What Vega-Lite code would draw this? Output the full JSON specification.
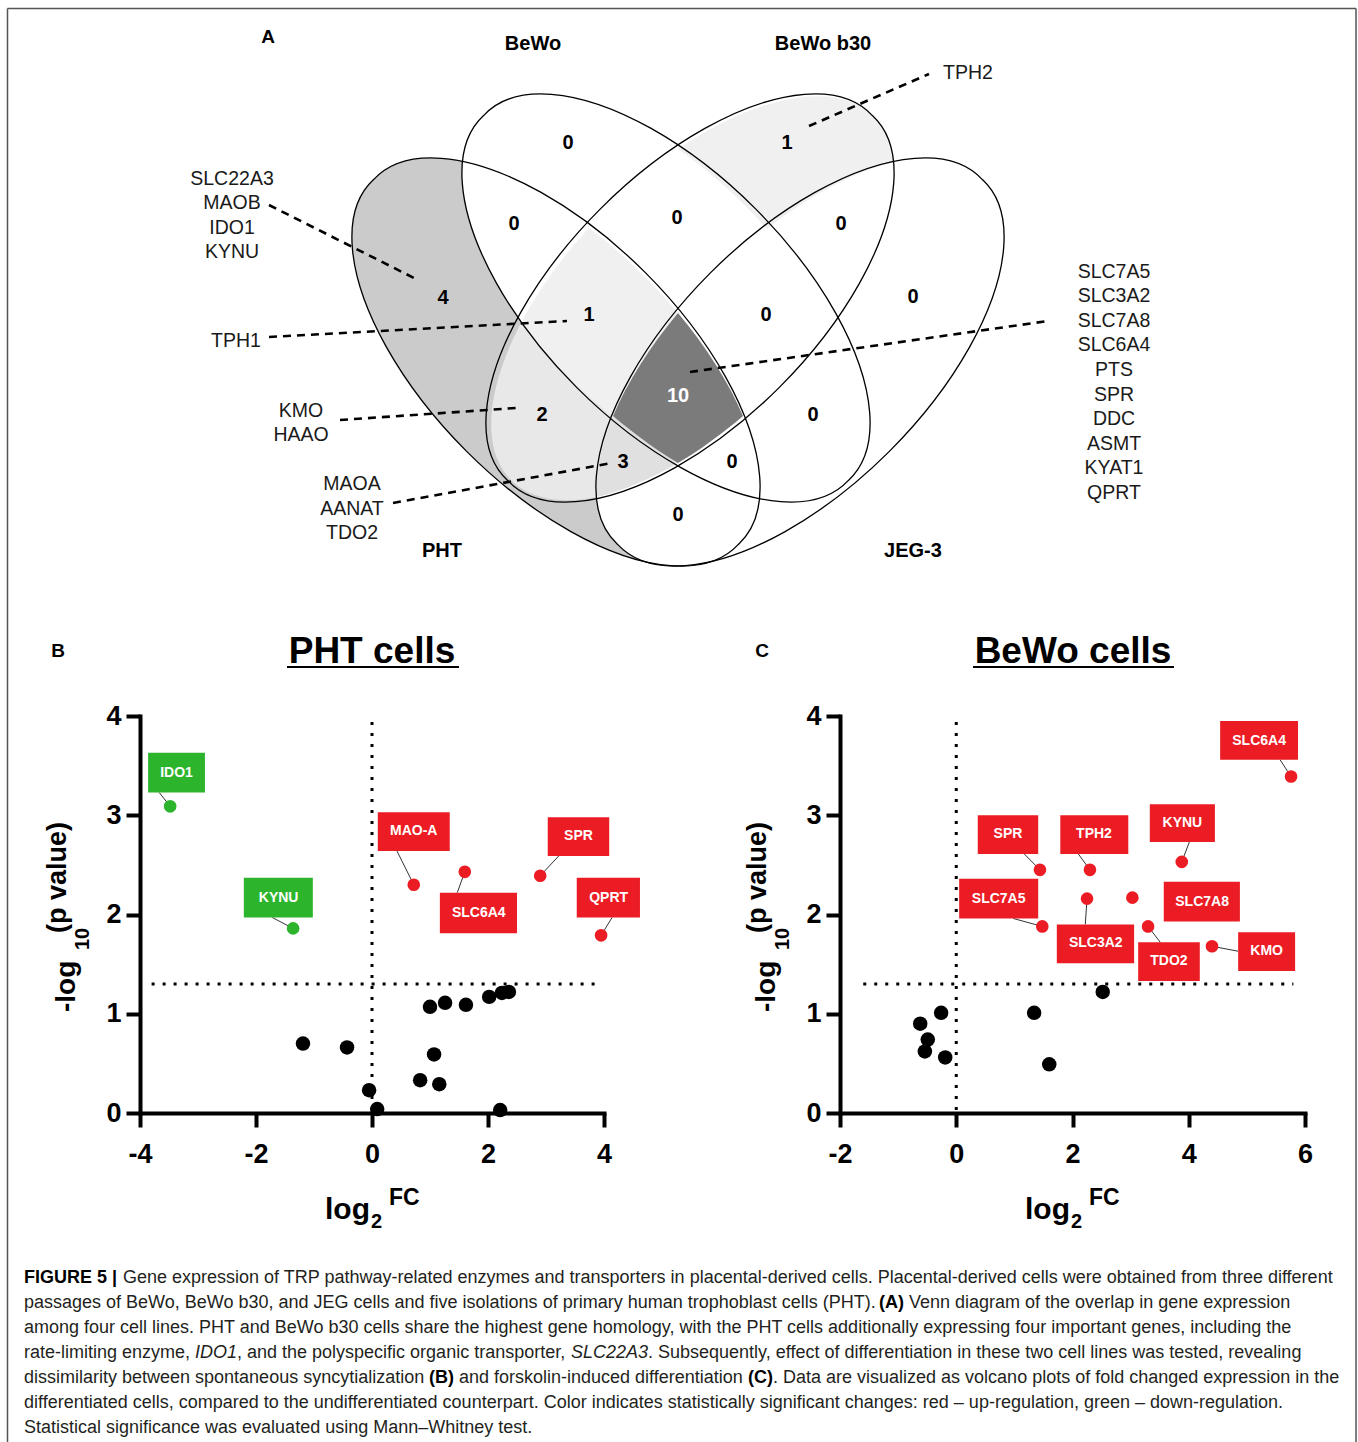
{
"$schema": "https://vega.github.io/schema/vega-lite/v6.json",
"width": 1358, "height": 1442, "autosize": {"type": "none"}, "padding": 0, "background": "white",
"config": {"view": {"stroke": null}, "font": "Liberation Sans",
 "axis": {"domainColor": "black", "domainWidth": 4, "domainCap": "square", "tickColor": "black", "tickWidth": 4, "tickSize": 14, "labelFont": "Liberation Sans", "labelFontWeight": "bold", "labelFontSize": 27, "labelColor": "black", "labelFlush": false, "labelOverlap": false, "grid": false}},
"datasets": {
"venn": [{"cx": 678, "cy": 362}],
"counts": [{"n":"0","x":568,"y":143},{"n":"1","x":787,"y":143},{"n":"0","x":514,"y":224},{"n":"0","x":677,"y":218},{"n":"0","x":841,"y":224},{"n":"4","x":443,"y":298},{"n":"0","x":913,"y":297},{"n":"1","x":589,"y":315},{"n":"0","x":766,"y":315},{"n":"10","x":678,"y":396},{"n":"2","x":542,"y":415},{"n":"0","x":813,"y":415},{"n":"3","x":623,"y":462},{"n":"0","x":732,"y":462},{"n":"0","x":678,"y":515}],
"sets": [{"t":"BeWo","x":533,"y":44},{"t":"BeWo b30","x":823,"y":44},{"t":"PHT","x":442,"y":551},{"t":"JEG-3","x":913,"y":551}],
"panels": [{"t":"A","x":268,"y":37},{"t":"B","x":58,"y":651},{"t":"C","x":762,"y":651}],
"genes": [{"g":"SLC22A3","x":232,"y":179},{"g":"MAOB","x":232,"y":203},{"g":"IDO1","x":232,"y":228},{"g":"KYNU","x":232,"y":252},{"g":"TPH1","x":236,"y":341},{"g":"KMO","x":301,"y":411},{"g":"HAAO","x":301,"y":435},{"g":"MAOA","x":352,"y":484},{"g":"AANAT","x":352,"y":509},{"g":"TDO2","x":352,"y":533},{"g":"TPH2","x":968,"y":73},{"g":"SLC7A5","x":1114,"y":272},{"g":"SLC3A2","x":1114,"y":296},{"g":"SLC7A8","x":1114,"y":321},{"g":"SLC6A4","x":1114,"y":345},{"g":"PTS","x":1114,"y":370},{"g":"SPR","x":1114,"y":395},{"g":"DDC","x":1114,"y":419},{"g":"ASMT","x":1114,"y":444},{"g":"KYAT1","x":1114,"y":468},{"g":"QPRT","x":1114,"y":493}],
"vlead": [{"x":269,"y":205,"x2":414,"y2":278},{"x":269,"y":337,"x2":567,"y2":321},{"x":340,"y":420,"x2":516,"y2":408},{"x":393,"y":503,"x2":612,"y2":463},{"x":809,"y":126,"x2":929,"y2":74},{"x":690,"y":372,"x2":1048,"y2":321}],
"titles": [{"t":"PHT cells","x":372,"y":652,"u1":287,"u2":459,"uy":667},{"t":"BeWo cells","x":1073,"y":652,"u1":973,"u2":1174,"uy":667}],
"atitle": [{"t":"-log","x":75,"y":1012,"k":"yb"},{"t":"10","x":89,"y":950,"k":"ys"},{"t":"(p value)","x":66,"y":933,"k":"yp"},{"t":"-log","x":775,"y":1012,"k":"yb"},{"t":"10","x":789,"y":950,"k":"ys"},{"t":"(p value)","x":766,"y":933,"k":"yp"},{"t":"log","x":325,"y":1219,"k":"xb"},{"t":"2","x":371,"y":1228,"k":"xs"},{"t":"FC","x":389,"y":1205,"k":"xp"},{"t":"log","x":1025,"y":1219,"k":"xb"},{"t":"2","x":1071,"y":1228,"k":"xs"},{"t":"FC","x":1089,"y":1205,"k":"xp"}],
"border": [{"x":7.5,"y":8.5,"x2":1356,"y2":8.5},{"x":7.5,"y":8.5,"x2":7.5,"y2":1442},{"x":1356,"y":8.5,"x2":1356,"y2":1442}],
"caption": [
{"t":"FIGURE 5 |","x":24,"y":1278,"s":"b"},
{"t":"Gene expression of TRP pathway-related enzymes and transporters in placental-derived cells. Placental-derived cells were obtained from three different","x":123,"y":1278,"s":"r"},
{"t":"passages of BeWo, BeWo b30, and JEG cells and five isolations of primary human trophoblast cells (PHT).","x":24,"y":1303,"s":"r"},
{"t":"(A)","x":879,"y":1303,"s":"b"},
{"t":"Venn diagram of the overlap in gene expression","x":909,"y":1303,"s":"r"},
{"t":"among four cell lines. PHT and BeWo b30 cells share the highest gene homology, with the PHT cells additionally expressing four important genes, including the","x":24,"y":1328,"s":"r"},
{"t":"rate-limiting enzyme,","x":24,"y":1353,"s":"r"},
{"t":"IDO1","x":195,"y":1353,"s":"i"},
{"t":", and the polyspecific organic transporter,","x":237,"y":1353,"s":"r"},
{"t":"SLC22A3","x":571,"y":1353,"s":"i"},
{"t":". Subsequently, effect of differentiation in these two cell lines was tested, revealing","x":648,"y":1353,"s":"r"},
{"t":"dissimilarity between spontaneous syncytialization","x":24,"y":1378,"s":"r"},
{"t":"(B)","x":429,"y":1378,"s":"b"},
{"t":"and forskolin-induced differentiation","x":459,"y":1378,"s":"r"},
{"t":"(C)","x":748,"y":1378,"s":"b"},
{"t":". Data are visualized as volcano plots of fold changed expression in the","x":773,"y":1378,"s":"r"},
{"t":"differentiated cells, compared to the undifferentiated counterpart. Color indicates statistically significant changes: red – up-regulation, green – down-regulation.","x":24,"y":1403,"s":"r"},
{"t":"Statistical significance was evaluated using Mann–Whitney test.","x":24,"y":1428,"s":"r"}],
"pht": [{"gene":"IDO1","x":-3.48,"y":3.09,"reg":"down"},{"gene":"KYNU","x":-1.36,"y":1.86,"reg":"down"},{"gene":"MAO-A","x":0.72,"y":2.30,"reg":"up"},{"gene":"SLC6A4","x":1.60,"y":2.43,"reg":"up"},{"gene":"SPR","x":2.90,"y":2.39,"reg":"up"},{"gene":"QPRT","x":3.95,"y":1.79,"reg":"up"},
{"x":-1.19,"y":0.70,"reg":"ns"},{"x":-0.43,"y":0.66,"reg":"ns"},{"x":-0.05,"y":0.23,"reg":"ns"},{"x":0.09,"y":0.04,"reg":"ns"},{"x":0.83,"y":0.33,"reg":"ns"},{"x":1.07,"y":0.59,"reg":"ns"},{"x":1.16,"y":0.29,"reg":"ns"},{"x":1.00,"y":1.07,"reg":"ns"},{"x":1.26,"y":1.11,"reg":"ns"},{"x":1.62,"y":1.09,"reg":"ns"},{"x":2.02,"y":1.17,"reg":"ns"},{"x":2.24,"y":1.21,"reg":"ns"},{"x":2.36,"y":1.22,"reg":"ns"},{"x":2.21,"y":0.03,"reg":"ns"}],
"pht_lab": [{"gene":"IDO1","x":-3.48,"y":3.09,"ax":-3.67,"ay":3.23,"lx":-3.37,"ly":3.43,"bx1":-3.86,"bx2":-2.88,"by1":3.23,"by2":3.63,"reg":"down"},
{"gene":"KYNU","x":-1.36,"y":1.86,"ax":-1.72,"ay":1.97,"lx":-1.61,"ly":2.17,"bx1":-2.21,"bx2":-1.02,"by1":1.97,"by2":2.37,"reg":"down"},
{"gene":"MAO-A","x":0.72,"y":2.30,"ax":0.43,"ay":2.64,"lx":0.72,"ly":2.84,"bx1":0.10,"bx2":1.34,"by1":2.64,"by2":3.03,"reg":"up"},
{"gene":"SLC6A4","x":1.60,"y":2.43,"ax":1.47,"ay":2.22,"lx":1.84,"ly":2.02,"bx1":1.17,"bx2":2.50,"by1":1.81,"by2":2.22,"reg":"up"},
{"gene":"SPR","x":2.90,"y":2.39,"ax":3.22,"ay":2.59,"lx":3.56,"ly":2.79,"bx1":3.03,"bx2":4.09,"by1":2.59,"by2":2.98,"reg":"up"},
{"gene":"QPRT","x":3.95,"y":1.79,"ax":4.14,"ay":1.97,"lx":4.08,"ly":2.17,"bx1":3.53,"bx2":4.62,"by1":1.97,"by2":2.37,"reg":"up"}],
"pht_thr": [{"x":-3.8,"x2":3.9,"y":1.3,"y2":1.3},{"x":0,"x2":0,"y":0.03,"y2":4}],
"bewo": [{"gene":"SLC6A4","x":5.76,"y":3.39,"reg":"up"},{"gene":"SPR","x":1.44,"y":2.45,"reg":"up"},{"gene":"TPH2","x":2.30,"y":2.45,"reg":"up"},{"gene":"KYNU","x":3.88,"y":2.53,"reg":"up"},{"gene":"SLC7A5","x":1.48,"y":1.88,"reg":"up"},{"gene":"SLC3A2","x":2.25,"y":2.16,"reg":"up"},{"gene":"SLC7A8","x":3.03,"y":2.17,"reg":"up"},{"gene":"TDO2","x":3.30,"y":1.88,"reg":"up"},{"gene":"KMO","x":4.40,"y":1.68,"reg":"up"},
{"x":-0.62,"y":0.90,"reg":"ns"},{"x":-0.26,"y":1.01,"reg":"ns"},{"x":-0.49,"y":0.74,"reg":"ns"},{"x":-0.54,"y":0.62,"reg":"ns"},{"x":-0.19,"y":0.56,"reg":"ns"},{"x":1.34,"y":1.01,"reg":"ns"},{"x":1.60,"y":0.49,"reg":"ns"},{"x":2.52,"y":1.22,"reg":"ns"}],
"bewo_lab": [{"gene":"SLC6A4","x":5.76,"y":3.39,"ax":5.57,"ay":3.56,"lx":5.21,"ly":3.75,"bx1":4.54,"bx2":5.88,"by1":3.56,"by2":3.95,"reg":"up"},
{"gene":"SPR","x":1.44,"y":2.45,"ax":1.17,"ay":2.61,"lx":0.89,"ly":2.81,"bx1":0.37,"bx2":1.41,"by1":2.61,"by2":3.00,"reg":"up"},
{"gene":"TPH2","x":2.30,"y":2.45,"ax":2.10,"ay":2.61,"lx":2.37,"ly":2.81,"bx1":1.79,"bx2":2.96,"by1":2.61,"by2":3.00,"reg":"up"},
{"gene":"KYNU","x":3.88,"y":2.53,"ax":4.01,"ay":2.73,"lx":3.89,"ly":2.92,"bx1":3.33,"bx2":4.45,"by1":2.73,"by2":3.11,"reg":"up"},
{"gene":"SLC7A5","x":1.48,"y":1.88,"ax":0.98,"ay":1.96,"lx":0.73,"ly":2.16,"bx1":0.05,"bx2":1.41,"by1":1.96,"by2":2.36,"reg":"up"},
{"gene":"SLC3A2","x":2.25,"y":2.16,"ax":2.22,"ay":1.90,"lx":2.40,"ly":1.71,"bx1":1.73,"bx2":3.06,"by1":1.51,"by2":1.90,"reg":"up"},
{"gene":"SLC7A8","x":3.03,"y":2.17,"ax":3.03,"ay":2.17,"lx":4.23,"ly":2.13,"bx1":3.57,"bx2":4.88,"by1":1.93,"by2":2.33,"reg":"up"},
{"gene":"TDO2","x":3.30,"y":1.88,"ax":3.51,"ay":1.72,"lx":3.66,"ly":1.53,"bx1":3.13,"bx2":4.19,"by1":1.33,"by2":1.72,"reg":"up"},
{"gene":"KMO","x":4.40,"y":1.68,"ax":4.85,"ay":1.63,"lx":5.34,"ly":1.63,"bx1":4.85,"bx2":5.83,"by1":1.43,"by2":1.82,"reg":"up"}],
"bewo_thr": [{"x":-1.6,"x2":5.8,"y":1.3,"y2":1.3},{"x":0,"x2":0,"y":0.03,"y2":4}]
},
"resolve": {"scale": {"x": "independent", "y": "independent"}, "axis": {"x": "independent", "y": "independent"}},
"layer": [
{
"layer": [
{"data": {"name": "venn"}, "mark": {"type": "point", "shape": "M-304.4,-182.4 A258,124,45,1,1,60.4,182.4 A258,124,45,1,1,-304.4,-182.4 Z", "size": 4, "filled": true, "fill": "#cbcbcb", "strokeWidth": 0, "opacity": 1},
 "encoding": {"x": {"field": "cx", "type": "quantitative", "scale": {"domain": [0, 1358], "range": [0, 1358], "nice": false, "zero": false}, "axis": null}, "y": {"field": "cy", "type": "quantitative", "scale": {"domain": [0, 1442], "range": [0, 1442], "nice": false, "zero": false}, "axis": null}}},
{"data": {"name": "venn"}, "mark": {"type": "point", "shape": "M-194.4,-246.4 A258,124,45,1,1,170.4,118.4 A258,124,45,1,1,-194.4,-246.4 Z", "size": 4, "filled": true, "fill": "white", "strokeWidth": 0, "opacity": 1},
 "encoding": {"x": {"field": "cx", "type": "quantitative", "axis": null}, "y": {"field": "cy", "type": "quantitative", "axis": null}}},
{"data": {"name": "venn"}, "mark": {"type": "point", "shape": "M304.4,-182.4 A258,124,-45,1,1,-60.4,182.4 A258,124,-45,1,1,304.4,-182.4 Z", "size": 4, "filled": true, "fill": "white", "strokeWidth": 0, "opacity": 1},
 "encoding": {"x": {"field": "cx", "type": "quantitative", "axis": null}, "y": {"field": "cy", "type": "quantitative", "axis": null}}},
{"data": {"name": "venn"}, "mark": {"type": "point", "shape": "M0,-213 A258,124,-45,0,1,215,-200 A258,124,-45,0,0,89,-133 A258,124,45,0,0,0,-213 Z", "size": 4, "filled": true, "fill": "#f0f0f0", "strokeWidth": 0, "opacity": 1},
 "encoding": {"x": {"field": "cx", "type": "quantitative", "axis": null}, "y": {"field": "cy", "type": "quantitative", "axis": null}}},
{"data": {"name": "venn"}, "mark": {"type": "point", "shape": "M-89,-134 A258,124,45,0,1,0,-49 A258,124,-45,0,0,-65,54 A258,124,45,0,1,-157,-39 A258,124,-45,0,1,-89,-134 Z", "size": 4, "filled": true, "fill": "#f0f0f0", "strokeWidth": 0, "opacity": 1},
 "encoding": {"x": {"field": "cx", "type": "quantitative", "axis": null}, "y": {"field": "cy", "type": "quantitative", "axis": null}}},
{"data": {"name": "venn"}, "mark": {"type": "point", "shape": "M-157,-39 A258,124,45,0,0,-65,54 A258,124,-45,0,0,-81,135 A258,124,-45,0,1,-157,-39 Z", "size": 4, "filled": true, "fill": "#e8e8e8", "strokeWidth": 0, "opacity": 1},
 "encoding": {"x": {"field": "cx", "type": "quantitative", "axis": null}, "y": {"field": "cy", "type": "quantitative", "axis": null}}},
{"data": {"name": "venn"}, "mark": {"type": "point", "shape": "M-65,54 A258,124,45,0,0,0,101 A258,124,-45,0,1,-81,135 A258,124,-45,0,1,-65,54 Z", "size": 4, "filled": true, "fill": "#e0e0e0", "strokeWidth": 0, "opacity": 1},
 "encoding": {"x": {"field": "cx", "type": "quantitative", "axis": null}, "y": {"field": "cy", "type": "quantitative", "axis": null}}},
{"data": {"name": "venn"}, "mark": {"type": "point", "shape": "M0,-49 A258,124,-45,0,0,-65,54 A258,124,45,0,0,0,101 A258,124,-45,0,0,65,54 A258,124,45,0,0,0,-49 Z", "size": 4, "filled": true, "fill": "#7b7b7b", "strokeWidth": 0, "opacity": 1},
 "encoding": {"x": {"field": "cx", "type": "quantitative", "axis": null}, "y": {"field": "cy", "type": "quantitative", "axis": null}}},
{"data": {"name": "venn"}, "mark": {"type": "point", "shape": "M-304.4,-182.4 A258,124,45,1,1,60.4,182.4 A258,124,45,1,1,-304.4,-182.4 Z", "size": 4, "filled": false, "stroke": "black", "strokeWidth": 1.3, "opacity": 1},
 "encoding": {"x": {"field": "cx", "type": "quantitative", "axis": null}, "y": {"field": "cy", "type": "quantitative", "axis": null}}},
{"data": {"name": "venn"}, "mark": {"type": "point", "shape": "M-194.4,-246.4 A258,124,45,1,1,170.4,118.4 A258,124,45,1,1,-194.4,-246.4 Z", "size": 4, "filled": false, "stroke": "black", "strokeWidth": 1.3, "opacity": 1},
 "encoding": {"x": {"field": "cx", "type": "quantitative", "axis": null}, "y": {"field": "cy", "type": "quantitative", "axis": null}}},
{"data": {"name": "venn"}, "mark": {"type": "point", "shape": "M194.4,-246.4 A258,124,-45,1,1,-170.4,118.4 A258,124,-45,1,1,194.4,-246.4 Z", "size": 4, "filled": false, "stroke": "black", "strokeWidth": 1.3, "opacity": 1},
 "encoding": {"x": {"field": "cx", "type": "quantitative", "axis": null}, "y": {"field": "cy", "type": "quantitative", "axis": null}}},
{"data": {"name": "venn"}, "mark": {"type": "point", "shape": "M304.4,-182.4 A258,124,-45,1,1,-60.4,182.4 A258,124,-45,1,1,304.4,-182.4 Z", "size": 4, "filled": false, "stroke": "black", "strokeWidth": 1.3, "opacity": 1},
 "encoding": {"x": {"field": "cx", "type": "quantitative", "axis": null}, "y": {"field": "cy", "type": "quantitative", "axis": null}}},
{"data": {"name": "vlead"}, "mark": {"type": "rule", "color": "black", "strokeWidth": 2.6, "strokeDash": [8, 6]},
 "encoding": {"x": {"field": "x", "type": "quantitative", "axis": null}, "y": {"field": "y", "type": "quantitative", "axis": null}, "x2": {"field": "x2"}, "y2": {"field": "y2"}}},
{"data": {"name": "counts"}, "mark": {"type": "text", "font": "Liberation Sans", "fontWeight": "bold", "fontSize": 20, "align": "center", "baseline": "middle"},
 "encoding": {"x": {"field": "x", "type": "quantitative", "axis": null}, "y": {"field": "y", "type": "quantitative", "axis": null}, "text": {"field": "n"}, "color": {"condition": {"test": "datum.n === '10'", "value": "white"}, "value": "black"}}},
{"data": {"name": "sets"}, "mark": {"type": "text", "font": "Liberation Sans", "fontWeight": "bold", "fontSize": 20, "align": "center", "baseline": "middle", "color": "black"},
 "encoding": {"x": {"field": "x", "type": "quantitative", "axis": null}, "y": {"field": "y", "type": "quantitative", "axis": null}, "text": {"field": "t"}}},
{"data": {"name": "panels"}, "mark": {"type": "text", "font": "Liberation Sans", "fontWeight": "bold", "fontSize": 19, "align": "center", "baseline": "middle", "color": "black"},
 "encoding": {"x": {"field": "x", "type": "quantitative", "axis": null}, "y": {"field": "y", "type": "quantitative", "axis": null}, "text": {"field": "t"}}},
{"data": {"name": "genes"}, "mark": {"type": "text", "font": "Liberation Sans", "fontSize": 19.5, "align": "center", "baseline": "middle", "color": "#1a1a1a"},
 "encoding": {"x": {"field": "x", "type": "quantitative", "axis": null}, "y": {"field": "y", "type": "quantitative", "axis": null}, "text": {"field": "g"}}},
{"data": {"name": "titles"}, "mark": {"type": "text", "font": "Liberation Sans", "fontWeight": "bold", "fontSize": 37, "align": "center", "baseline": "middle", "color": "black"},
 "encoding": {"x": {"field": "x", "type": "quantitative", "axis": null}, "y": {"field": "y", "type": "quantitative", "axis": null}, "text": {"field": "t"}}},
{"data": {"name": "titles"}, "mark": {"type": "rule", "color": "black", "strokeWidth": 2},
 "encoding": {"x": {"field": "u1", "type": "quantitative", "axis": null}, "x2": {"field": "u2"}, "y": {"field": "uy", "type": "quantitative", "axis": null}}},
{"data": {"name": "atitle"}, "transform": [{"filter": "datum.k === 'yb'"}], "mark": {"type": "text", "font": "Liberation Sans", "fontWeight": "bold", "fontSize": 28, "align": "left", "baseline": "alphabetic", "angle": 270, "color": "black"},
 "encoding": {"x": {"field": "x", "type": "quantitative", "axis": null}, "y": {"field": "y", "type": "quantitative", "axis": null}, "text": {"field": "t"}}},
{"data": {"name": "atitle"}, "transform": [{"filter": "datum.k === 'ys'"}], "mark": {"type": "text", "font": "Liberation Sans", "fontWeight": "bold", "fontSize": 20, "align": "left", "baseline": "alphabetic", "angle": 270, "color": "black"},
 "encoding": {"x": {"field": "x", "type": "quantitative", "axis": null}, "y": {"field": "y", "type": "quantitative", "axis": null}, "text": {"field": "t"}}},
{"data": {"name": "atitle"}, "transform": [{"filter": "datum.k === 'yp'"}], "mark": {"type": "text", "font": "Liberation Sans", "fontWeight": "bold", "fontSize": 27, "align": "left", "baseline": "alphabetic", "angle": 270, "color": "black"},
 "encoding": {"x": {"field": "x", "type": "quantitative", "axis": null}, "y": {"field": "y", "type": "quantitative", "axis": null}, "text": {"field": "t"}}},
{"data": {"name": "atitle"}, "transform": [{"filter": "datum.k === 'xb'"}], "mark": {"type": "text", "font": "Liberation Sans", "fontWeight": "bold", "fontSize": 30, "align": "left", "baseline": "alphabetic", "color": "black"},
 "encoding": {"x": {"field": "x", "type": "quantitative", "axis": null}, "y": {"field": "y", "type": "quantitative", "axis": null}, "text": {"field": "t"}}},
{"data": {"name": "atitle"}, "transform": [{"filter": "datum.k === 'xs'"}], "mark": {"type": "text", "font": "Liberation Sans", "fontWeight": "bold", "fontSize": 20, "align": "left", "baseline": "alphabetic", "color": "black"},
 "encoding": {"x": {"field": "x", "type": "quantitative", "axis": null}, "y": {"field": "y", "type": "quantitative", "axis": null}, "text": {"field": "t"}}},
{"data": {"name": "atitle"}, "transform": [{"filter": "datum.k === 'xp'"}], "mark": {"type": "text", "font": "Liberation Sans", "fontWeight": "bold", "fontSize": 23, "align": "left", "baseline": "alphabetic", "color": "black"},
 "encoding": {"x": {"field": "x", "type": "quantitative", "axis": null}, "y": {"field": "y", "type": "quantitative", "axis": null}, "text": {"field": "t"}}},
{"data": {"name": "border"}, "mark": {"type": "rule", "color": "#555555", "strokeWidth": 1.5},
 "encoding": {"x": {"field": "x", "type": "quantitative", "axis": null}, "y": {"field": "y", "type": "quantitative", "axis": null}, "x2": {"field": "x2"}, "y2": {"field": "y2"}}},
{"data": {"name": "caption"}, "transform": [{"filter": "datum.s === 'r'"}], "mark": {"type": "text", "font": "Liberation Sans", "fontSize": 18, "align": "left", "baseline": "middle", "color": "#231f20"},
 "encoding": {"x": {"field": "x", "type": "quantitative", "axis": null}, "y": {"field": "y", "type": "quantitative", "axis": null}, "text": {"field": "t"}}},
{"data": {"name": "caption"}, "transform": [{"filter": "datum.s === 'b'"}], "mark": {"type": "text", "font": "Liberation Sans", "fontSize": 18, "fontWeight": "bold", "align": "left", "baseline": "middle", "color": "#000000"},
 "encoding": {"x": {"field": "x", "type": "quantitative", "axis": null}, "y": {"field": "y", "type": "quantitative", "axis": null}, "text": {"field": "t"}}},
{"data": {"name": "caption"}, "transform": [{"filter": "datum.s === 'i'"}], "mark": {"type": "text", "font": "Liberation Sans", "fontSize": 18, "fontStyle": "italic", "align": "left", "baseline": "middle", "color": "#231f20"},
 "encoding": {"x": {"field": "x", "type": "quantitative", "axis": null}, "y": {"field": "y", "type": "quantitative", "axis": null}, "text": {"field": "t"}}}
]
},
{
"layer": [
{"data": {"name": "pht_thr"}, "mark": {"type": "rule", "color": "black", "strokeWidth": 3, "strokeDash": [3, 8]},
 "encoding": {"x": {"field": "x", "type": "quantitative", "scale": {"domain": [-4, 4], "range": [140, 604], "nice": false, "zero": false}, "axis": {"orient": "bottom", "offset": -329, "values": [-4, -2, 0, 2, 4], "labelExpr": "'' + datum.value", "title": null, "labelPadding": 14}}, "x2": {"field": "x2"},
  "y": {"field": "y", "type": "quantitative", "scale": {"domain": [0, 4], "range": [1113, 716], "nice": false, "zero": false}, "axis": {"orient": "left", "offset": -140, "values": [0, 1, 2, 3, 4], "title": null, "labelPadding": 5}}, "y2": {"field": "y2"}}},
{"data": {"name": "pht_lab"}, "mark": {"type": "rule", "color": "#333333", "strokeWidth": 1},
 "encoding": {"x": {"field": "x", "type": "quantitative", "axis": {"orient": "bottom", "offset": -329, "values": [-4, -2, 0, 2, 4], "labelExpr": "'' + datum.value", "title": null, "labelPadding": 14}}, "y": {"field": "y", "type": "quantitative", "axis": {"orient": "left", "offset": -140, "values": [0, 1, 2, 3, 4], "title": null, "labelPadding": 5}}, "x2": {"field": "ax"}, "y2": {"field": "ay"}}},
{"data": {"name": "pht_lab"}, "mark": {"type": "rect"},
 "encoding": {"x": {"field": "bx1", "type": "quantitative", "axis": {"orient": "bottom", "offset": -329, "values": [-4, -2, 0, 2, 4], "labelExpr": "'' + datum.value", "title": null, "labelPadding": 14}}, "x2": {"field": "bx2"}, "y": {"field": "by1", "type": "quantitative", "axis": {"orient": "left", "offset": -140, "values": [0, 1, 2, 3, 4], "title": null, "labelPadding": 5}}, "y2": {"field": "by2"},
  "color": {"field": "reg", "type": "nominal", "scale": {"domain": ["down", "ns", "up"], "range": ["#2db42d", "#000000", "#ec1c24"]}, "legend": null}}},
{"data": {"name": "pht"}, "mark": {"type": "point", "filled": true, "opacity": 1, "shape": "circle"},
 "encoding": {"x": {"field": "x", "type": "quantitative", "axis": {"orient": "bottom", "offset": -329, "values": [-4, -2, 0, 2, 4], "labelExpr": "'' + datum.value", "title": null, "labelPadding": 14}},
  "y": {"field": "y", "type": "quantitative", "axis": {"orient": "left", "offset": -140, "values": [0, 1, 2, 3, 4], "title": null, "labelPadding": 5}},
  "color": {"field": "reg", "type": "nominal", "legend": null},
  "size": {"condition": {"test": "datum.reg === 'ns'", "value": 210}, "value": 160}}},
{"data": {"name": "pht_lab"}, "mark": {"type": "text", "font": "Liberation Sans", "fontWeight": "bold", "fontSize": 14, "color": "white", "align": "center", "baseline": "middle"},
 "encoding": {"x": {"field": "lx", "type": "quantitative", "axis": {"orient": "bottom", "offset": -329, "values": [-4, -2, 0, 2, 4], "labelExpr": "'' + datum.value", "title": null, "labelPadding": 14}}, "y": {"field": "ly", "type": "quantitative", "axis": {"orient": "left", "offset": -140, "values": [0, 1, 2, 3, 4], "title": null, "labelPadding": 5}}, "text": {"field": "gene"}}}
]
},
{
"layer": [
{"data": {"name": "bewo_thr"}, "mark": {"type": "rule", "color": "black", "strokeWidth": 3, "strokeDash": [3, 8]},
 "encoding": {"x": {"field": "x", "type": "quantitative", "scale": {"domain": [-2, 6], "range": [840, 1305], "nice": false, "zero": false}, "axis": {"orient": "bottom", "offset": -329, "values": [-2, 0, 2, 4, 6], "labelExpr": "'' + datum.value", "title": null, "labelPadding": 14}}, "x2": {"field": "x2"},
  "y": {"field": "y", "type": "quantitative", "scale": {"domain": [0, 4], "range": [1113, 716], "nice": false, "zero": false}, "axis": {"orient": "left", "offset": -840, "values": [0, 1, 2, 3, 4], "title": null, "labelPadding": 5}}, "y2": {"field": "y2"}}},
{"data": {"name": "bewo_lab"}, "mark": {"type": "rule", "color": "#333333", "strokeWidth": 1},
 "encoding": {"x": {"field": "x", "type": "quantitative", "axis": {"orient": "bottom", "offset": -329, "values": [-2, 0, 2, 4, 6], "labelExpr": "'' + datum.value", "title": null, "labelPadding": 14}}, "y": {"field": "y", "type": "quantitative", "axis": {"orient": "left", "offset": -840, "values": [0, 1, 2, 3, 4], "title": null, "labelPadding": 5}}, "x2": {"field": "ax"}, "y2": {"field": "ay"}}},
{"data": {"name": "bewo_lab"}, "mark": {"type": "rect"},
 "encoding": {"x": {"field": "bx1", "type": "quantitative", "axis": {"orient": "bottom", "offset": -329, "values": [-2, 0, 2, 4, 6], "labelExpr": "'' + datum.value", "title": null, "labelPadding": 14}}, "x2": {"field": "bx2"}, "y": {"field": "by1", "type": "quantitative", "axis": {"orient": "left", "offset": -840, "values": [0, 1, 2, 3, 4], "title": null, "labelPadding": 5}}, "y2": {"field": "by2"},
  "color": {"field": "reg", "type": "nominal", "scale": {"domain": ["down", "ns", "up"], "range": ["#2db42d", "#000000", "#ec1c24"]}, "legend": null}}},
{"data": {"name": "bewo"}, "mark": {"type": "point", "filled": true, "opacity": 1, "shape": "circle"},
 "encoding": {"x": {"field": "x", "type": "quantitative", "axis": {"orient": "bottom", "offset": -329, "values": [-2, 0, 2, 4, 6], "labelExpr": "'' + datum.value", "title": null, "labelPadding": 14}},
  "y": {"field": "y", "type": "quantitative", "axis": {"orient": "left", "offset": -840, "values": [0, 1, 2, 3, 4], "title": null, "labelPadding": 5}},
  "color": {"field": "reg", "type": "nominal", "legend": null},
  "size": {"condition": {"test": "datum.reg === 'ns'", "value": 210}, "value": 160}}},
{"data": {"name": "bewo_lab"}, "mark": {"type": "text", "font": "Liberation Sans", "fontWeight": "bold", "fontSize": 14, "color": "white", "align": "center", "baseline": "middle"},
 "encoding": {"x": {"field": "lx", "type": "quantitative", "axis": {"orient": "bottom", "offset": -329, "values": [-2, 0, 2, 4, 6], "labelExpr": "'' + datum.value", "title": null, "labelPadding": 14}}, "y": {"field": "ly", "type": "quantitative", "axis": {"orient": "left", "offset": -840, "values": [0, 1, 2, 3, 4], "title": null, "labelPadding": 5}}, "text": {"field": "gene"}}}
]
}
]
}
